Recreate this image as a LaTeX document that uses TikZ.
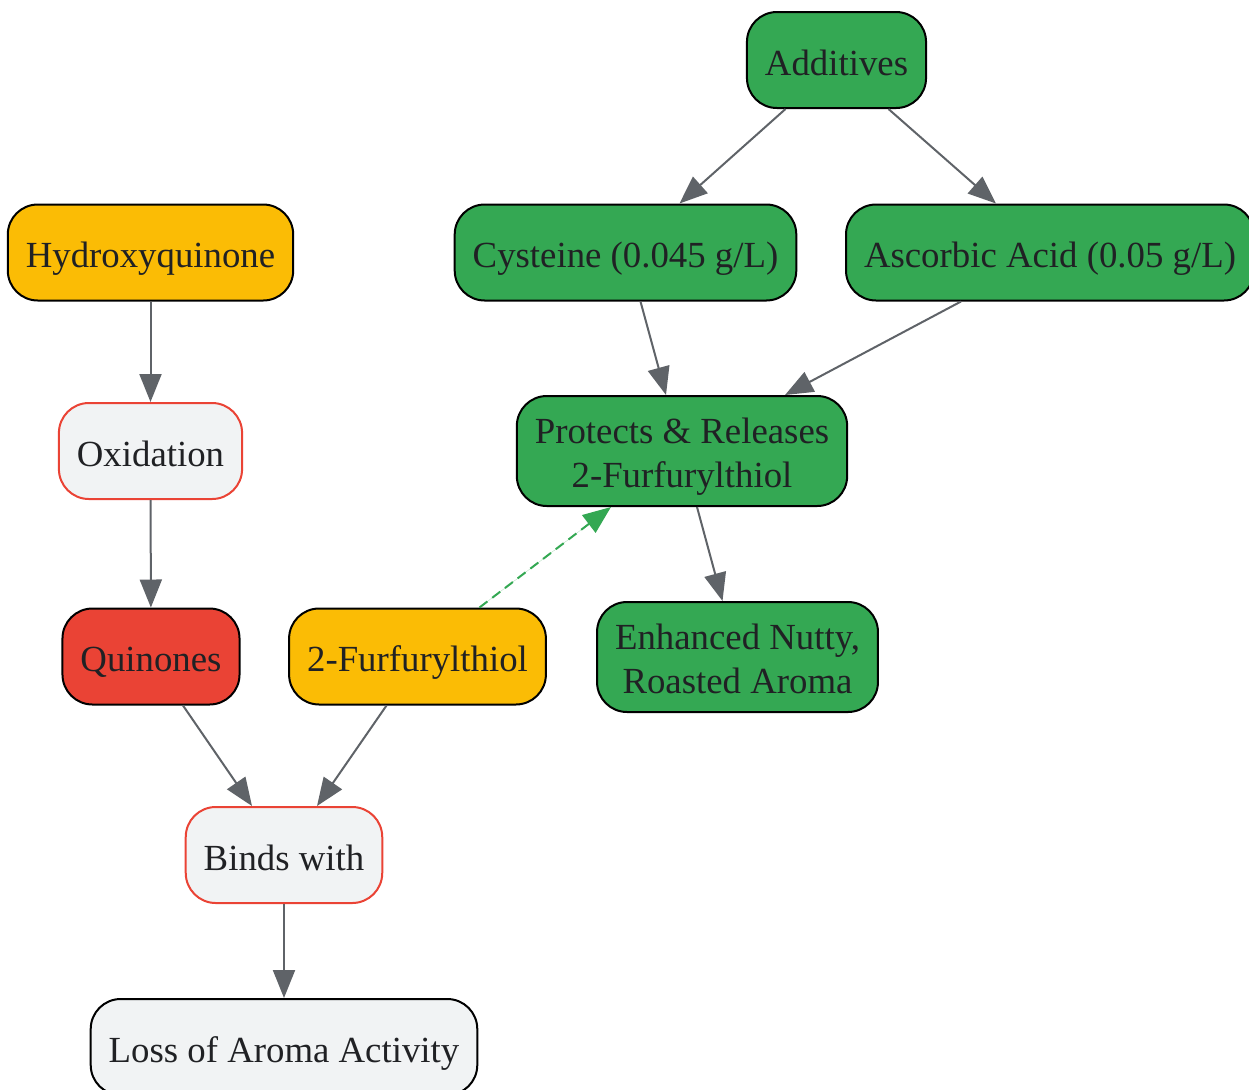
\documentclass[tikz,border=0pt]{standalone}
\usepackage{fontspec}
\setmainfont{Liberation Serif}
\usetikzlibrary{arrows.meta,positioning,calc}
\definecolor{leafgreen}{HTML}{34A853}
\definecolor{ambergold}{HTML}{FBBC05}
\definecolor{alertred}{HTML}{EA4335}
\definecolor{paleback}{HTML}{F1F3F4}
\definecolor{edgegray}{HTML}{5F6368}
\definecolor{inkdark}{HTML}{202124}

\begin{document}
\begin{tikzpicture}[x=0.5pt, y=-0.5pt,
    box/.style={rectangle, draw=black, line width=1pt, rounded corners=15pt,
                inner xsep=9pt, inner ysep=5pt, minimum height=48pt, align=center,
                text=inkdark, font=\fontsize{18.4}{22}\selectfont,
                execute at begin node={\rule[-4pt]{0pt}{23pt}},
                execute at end node={\rule[-4pt]{0pt}{4pt}}},
    tall/.style={minimum height=55pt, text height=40.5pt, text depth=4.5pt},
    green box/.style={box, fill=leafgreen},
    gold box/.style={box, fill=ambergold},
    red box/.style={box, fill=alertred},
    step box/.style={box, fill=paleback, draw=alertred},
    gray box/.style={box, fill=paleback},
    arrow/.style={-{Triangle[length=14pt,width=11pt]}, line width=1pt, draw=edgegray, fill=edgegray}
]
\useasboundingbox (0,0) rectangle (1249,1089);

% Additives branch
\node[green box] (add) at (836.5, 60) {Additives};
\node[green box] (cys) at (625.5, 252.5) {Cysteine (0.045 g/L)};
\node[green box] (asc) at (1050, 252.5) {Ascorbic Acid (0.05 g/L)};
\node[green box, tall] (prot) at (682, 451) {Protects \& Releases\\2-Furfurylthiol};
\node[green box, tall] (enh) at (737.5, 657) {Enhanced Nutty,\\Roasted Aroma};

% Oxidation branch
\node[gold box] (hyd) at (150.5, 252.5) {Hydroxyquinone};
\node[step box] (oxi) at (150.5, 451) {Oxidation};
\node[red box] (quin) at (151, 656.5) {Quinones};
\node[gold box] (fur) at (417.5, 656.5) {2-Furfurylthiol};
\node[step box] (bind) at (284, 855) {Binds with};
\node[gray box] (loss) at (284, 1047) {Loss of Aroma Activity};

\draw[arrow] ($(add.south)+(-51,0)$) -- ($(cys.north)+(54,0)$);
\draw[arrow] ($(add.south)+(52,0)$) -- ($(asc.north)+(-54,0)$);
\draw[arrow] ($(cys.south)+(15,0)$) -- ($(prot.north)+(-16,0)$);
\draw[arrow] ($(asc.south)+(-89,0)$) -- ($(prot.north)+(103,0)$);
\draw[arrow] ($(prot.south)+(15,0)$) -- ($(enh.north)+(-15,0)$);

\draw[arrow] (hyd) -- (oxi);
\draw[arrow] (oxi) -- (quin);
\draw[arrow] ($(quin.south)+(32,0)$) -- ($(bind.north)+(-32,0)$);
\draw[arrow] ($(fur.south)+(-31,0)$) -- ($(bind.north)+(33,0)$);
\draw[arrow] (bind) -- (loss);

\draw[arrow, draw=leafgreen, fill=leafgreen, dash pattern=on 5pt off 3pt]
    ($(fur.north)+(62,0)$) -- ($(prot.south)+(-71,0)$);

\end{tikzpicture}
\end{document}
